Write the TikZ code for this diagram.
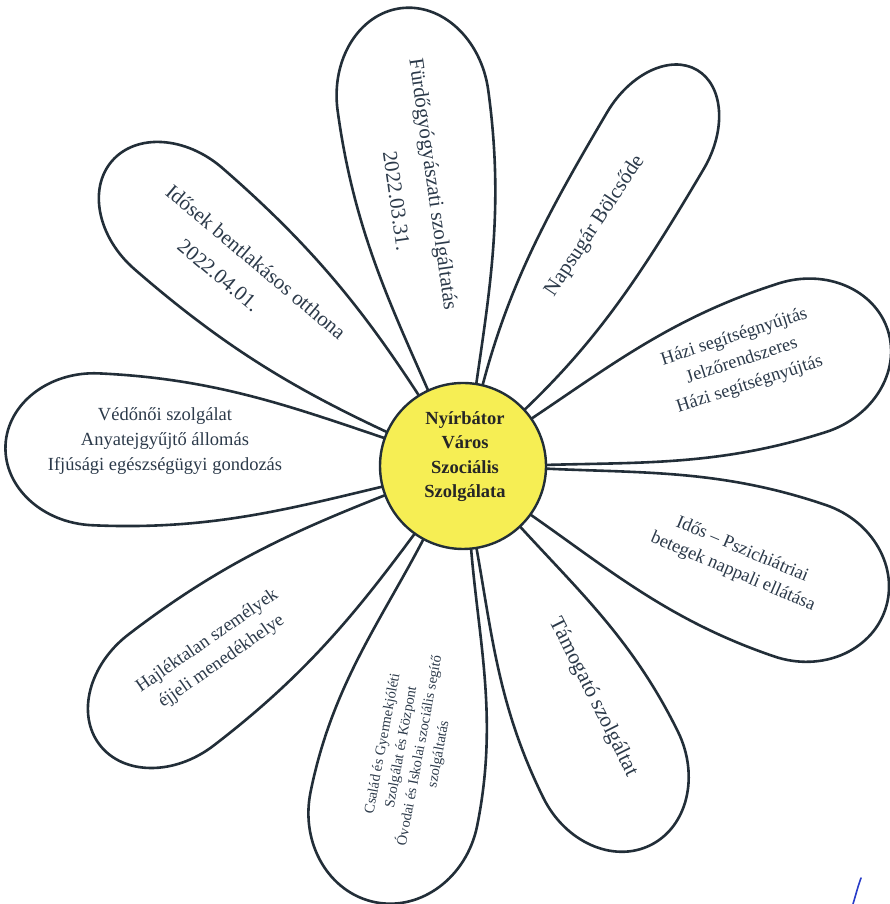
\documentclass[tikz,border=0pt]{standalone}
\usepackage{fontspec}
\setmainfont{Liberation Serif}
\definecolor{inkline}{RGB}{34,46,56}
\definecolor{inktext}{RGB}{44,58,74}
\definecolor{discyellow}{RGB}{246,238,84}
\definecolor{signblue}{RGB}{40,60,200}
\tikzset{
  petalline/.style={draw=inkline, line width=2.6pt, line join=round, line cap=round},
  petaltext/.style={text=inktext, align=center, inner sep=0pt},
}
\newcommand\flowerpetal[4]{%
 \begin{scope}[shift={(463,438)}, rotate=#1]
  \pgfmathsetmacro\pa{#2-#3}
  \pgfmathsetmacro\pd{\pa-76.5}
  \pgfmathsetmacro\cxa{76.5+0.35*\pd*cos(16)}
  \pgfmathsetmacro\cya{23.4+0.35*\pd*sin(16)}
  \pgfmathsetmacro\cxb{\pa-0.4*\pd}
  \pgfmathsetmacro\ea{\pa+0.552*#3}
  \pgfmathsetmacro\wb{0.552*#4}
  \draw[petalline] (76.5,-23.4) .. controls (\cxa,-\cya) and (\cxb,-#4) .. (\pa,-#4)
     .. controls (\ea,-#4) and (#2,-\wb) .. (#2,0)
     .. controls (#2,\wb) and (\ea,#4) .. (\pa,#4)
     .. controls (\cxb,#4) and (\cxa,\cya) .. (76.5,23.4);
 \end{scope}}
\begin{document}
\begin{tikzpicture}[x=1pt,y=1pt]
\fill[white] (0,0) rectangle (890,904);
\useasboundingbox (0,0) rectangle (890,904);
% petals
\flowerpetal{97.8}{462}{93}{76}
\flowerpetal{59.4}{460}{82}{56}
\flowerpetal{17.7}{446}{90}{78}
\flowerpetal{-18.8}{446}{90}{80}
\flowerpetal{-63.7}{423}{90}{75}
\flowerpetal{-101.4}{445}{95}{85}
\flowerpetal{-142.5}{458}{90}{70}
\flowerpetal{177.4}{458}{90}{76}
\flowerpetal{139}{465}{88}{67}
% centre disc
\node[circle, draw=inkline, line width=2.4pt, fill=discyellow, minimum size=166pt, inner sep=0pt] (hub) at (463,438) {};
\node[petaltext, text=black!85, font=\fontsize{18.5}{24.5}\selectfont\bfseries] (hubtext) at (465,447.5) {Nyírbátor\\Város\\Szociális\\Szolgálata};
% texts
\node[petaltext, rotate=-82, font=\fontsize{21}{26}\selectfont] (furdo) at (414.7,717.2) {Fürdőgyógyászati szolgáltatás\\[13pt]\hspace*{23pt}2022.03.31.};
\node[petaltext, rotate=-40, font=\fontsize{21}{26}\selectfont] (idosek) at (245.1,629) {Idősek bentlakásos otthona\\[8pt]\hspace*{-40pt}2022.04.01.};
\node[petaltext, rotate=56.5, font=\fontsize{21}{26}\selectfont] (napsugar) at (595,678) {Napsugár Bölcsőde};
\node[petaltext, rotate=18, font=\fontsize{18.5}{25}\selectfont] (hazi) at (742,543) {Házi segítségnyújtás\\Jelzőrendszeres\\Házi segítségnyújtás};
\node[petaltext, font=\fontsize{18.5}{25}\selectfont] (vedonoi) at (165,463) {Védőnői szolgálat\\Anyatejgyűjtő állomás\\Ifjúsági egészségügyi gondozás};
\node[petaltext, rotate=-23, font=\fontsize{18.5}{24}\selectfont] (pszich) at (737.5,343) {Idős – Pszichiátriai\\betegek nappali ellátása};
\node[petaltext, rotate=-63.4, font=\fontsize{21.5}{26}\selectfont] (tamogato) at (593,207) {Támogató szolgáltat};
\node[petaltext, rotate=79.4, font=\fontsize{14.5}{19}\selectfont] (csalad) at (411,155) {Család és Gyermekjóléti\\Szolgálat és Központ\\Óvodai és Iskolai szociális segítő\\szolgáltatás};
\node[petaltext, rotate=34.8, font=\fontsize{18.5}{25}\selectfont] (hajlek) at (214.5,252.5) {Hajléktalan személyek\\éjjeli menedékhelye};
% signature fragment
\draw[signblue, line width=1.6pt, line cap=round] (853,0) .. controls (856,10) and (858,18) .. (861,26);
\end{tikzpicture}
\end{document}
